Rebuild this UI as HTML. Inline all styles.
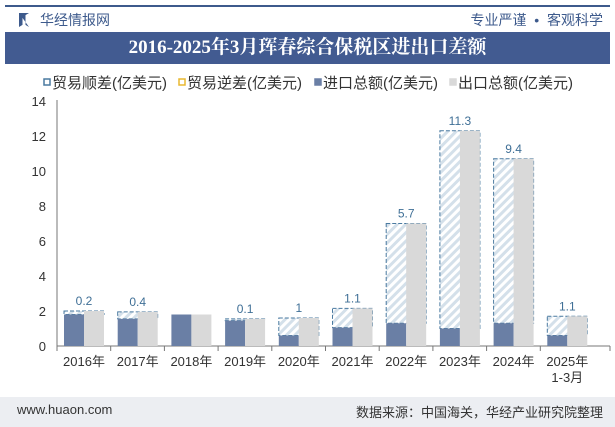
<!DOCTYPE html>
<html><head><meta charset="utf-8"><style>
body{margin:0;width:615px;height:427px;background:#fff;font-family:"Liberation Sans","Noto Sans CJK SC",sans-serif;overflow:hidden;position:relative}
</style></head><body>
<div style="position:absolute;left:5px;top:5px;width:605px;height:2px;background:#3d5a8c"></div>
<div style="position:absolute;left:19px;top:13px;width:10px;height:14px;background:#3d5a8c;clip-path:polygon(0 0,35% 15%,35% 85%,0 100%,0 0,100% 0,65% 15%,65% 85%,100% 100%)"></div>
<div style="position:absolute;left:40px;top:10px;font-size:14px;color:#3d5a8c">华经情报网</div>
<div style="position:absolute;right:12px;top:10px;font-size:14px;color:#3d5a8c">专业严谨 &nbsp;•&nbsp; 客观科学</div>
<div style="position:absolute;left:5px;top:32px;width:605px;height:32px;background:#425b91;color:#fff;font-family:'Liberation Serif','Noto Serif CJK SC',serif;font-weight:bold;font-size:19px;line-height:32px;text-align:center">2016-2025年3月珲春综合保税区进出口差额</div>
<svg id="c" width="615" height="427" style="position:absolute;left:0;top:0">
<defs><pattern id="h" width="6" height="6" patternUnits="userSpaceOnUse" patternTransform="rotate(45)"><rect width="6" height="6" fill="#fff"/><rect width="3" height="6" fill="#d4e0ea"/></pattern></defs>
</svg>
<div style="position:absolute;left:0;top:397px;width:615px;height:30px;background:#eceef2"></div>
<div style="position:absolute;left:17px;top:402px;font-size:13px;color:#333">www.huaon.com</div>
<div style="position:absolute;right:12px;top:402px;font-size:13px;color:#333">数据来源：中国海关，华经产业研究院整理</div>
<script>
const categories=["2016年","2017年","2018年","2019年","2020年","2021年","2022年","2023年","2024年","2025年"];
const imports=[1.8,1.55,1.8,1.45,0.6,1.05,1.3,1.0,1.3,0.6];
const exports=[2.0,1.95,1.8,1.55,1.6,2.15,7.0,12.3,10.7,1.7];
const surplusLabels=["0.2","0.4","","0.1","1","1.1","5.7","11.3","9.4","1.1"];
const yTicks=[0,2,4,6,8,10,12,14];
const svg=document.getElementById('c');const NS='http://www.w3.org/2000/svg';
function y(v){return 346-v*17.5;}
function x(i){return 57+i*53.7;}
function mk(t,a,p){const e=document.createElementNS(NS,t);for(const k in a)e.setAttribute(k,a[k]);(p||svg).appendChild(e);return e;}
yTicks.forEach(t=>{const e=mk('text',{x:46,y:y(t)+5,'text-anchor':'end','font-size':13,fill:'#333'});e.textContent=t;

});
const ax=mk('line',{x1:57,x2:610,y1:346,y2:346,stroke:'#777'});


const ay=mk('line',{x1:57,x2:57,y1:100,y2:346,stroke:'#777'});


categories.forEach((c,i)=>{
 const l=x(i)+7,mid=x(i)+27,w=20;
 mk('line',{x1:x(i),x2:x(i),y1:346,y2:351,stroke:'#777'});
 const d=exports[i]-imports[i];
 if(d>0.01){const r=mk('rect',{x:l,y:y(exports[i]),width:40,height:y(imports[i])-y(exports[i]),fill:'url(#h)',stroke:'#4a7aa0','stroke-dasharray':'4,2'});
 
 }
 const b1=mk('rect',{x:l,y:y(imports[i]),width:w,height:346-y(imports[i]),fill:'#6a7fa5'});
 
 
 const b2=mk('rect',{x:mid,y:y(exports[i]),width:w,height:346-y(exports[i]),fill:'#d9d9d9'});
 
 
 if(surplusLabels[i]){const t=mk('text',{x:l+20,y:y(exports[i])-6,'text-anchor':'middle','font-size':12,fill:'#3f6f96'});t.textContent=surplusLabels[i];
 
 }
 const t=mk('text',{x:x(i)+27,y:366,'text-anchor':'middle','font-size':13,fill:'#333'});t.textContent=c;
 
 
});
mk('line',{x1:610,x2:610,y1:346,y2:351,stroke:'#777'});
const s=mk('text',{x:x(9)+27,y:382,'text-anchor':'middle','font-size':13,fill:'#333'});s.textContent='1-3月';


const leg=[["贸易顺差(亿美元)",'#4a7aa0','#fff',44],["贸易逆差(亿美元)",'#e8b830','#fff',179],["进口总额(亿美元)",'#6a7fa5','#6a7fa5',315],["出口总额(亿美元)",'#d9d9d9','#d9d9d9',450]];
leg.forEach(L=>{const g=mk('g',{});


mk('rect',{x:L[3],y:79,width:6,height:6,fill:L[2],stroke:L[1],'stroke-width':1.5},g);
const t=mk('text',{x:L[3]+8,y:88,'font-size':15,fill:'#333'},g);t.textContent=L[0];});
</script>
</body></html>
